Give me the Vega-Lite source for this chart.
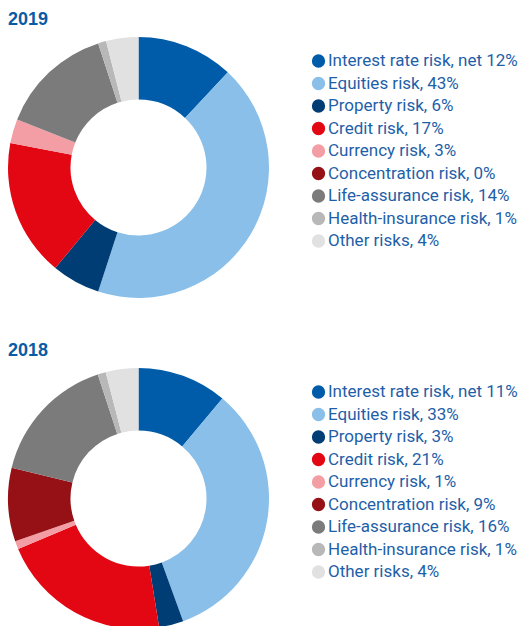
{
  "$schema": "https://vega.github.io/schema/vega-lite/v6.json",
  "padding": {"left": 8, "top": 11, "right": 0, "bottom": 0},
  "background": "white",
  "spacing": 44,
  "datasets": {
    "y2019": [
      {"i": 1, "risk": "Interest rate risk, net", "label": "Interest rate risk, net 12%", "value": 12},
      {"i": 2, "risk": "Equities risk", "label": "Equities risk, 43%", "value": 43},
      {"i": 3, "risk": "Property risk", "label": "Property risk, 6%", "value": 6},
      {"i": 4, "risk": "Credit risk", "label": "Credit risk, 17%", "value": 17},
      {"i": 5, "risk": "Currency risk", "label": "Currency risk, 3%", "value": 3},
      {"i": 6, "risk": "Concentration risk", "label": "Concentration risk, 0%", "value": 0},
      {"i": 7, "risk": "Life-assurance risk", "label": "Life-assurance risk, 14%", "value": 14},
      {"i": 8, "risk": "Health-insurance risk", "label": "Health-insurance risk, 1%", "value": 1},
      {"i": 9, "risk": "Other risks", "label": "Other risks, 4%", "value": 4}
    ],
    "y2018": [
      {"i": 1, "risk": "Interest rate risk, net", "label": "Interest rate risk, net 11%", "value": 11},
      {"i": 2, "risk": "Equities risk", "label": "Equities risk, 33%", "value": 33},
      {"i": 3, "risk": "Property risk", "label": "Property risk, 3%", "value": 3},
      {"i": 4, "risk": "Credit risk", "label": "Credit risk, 21%", "value": 21},
      {"i": 5, "risk": "Currency risk", "label": "Currency risk, 1%", "value": 1},
      {"i": 6, "risk": "Concentration risk", "label": "Concentration risk, 9%", "value": 9},
      {"i": 7, "risk": "Life-assurance risk", "label": "Life-assurance risk, 16%", "value": 16},
      {"i": 8, "risk": "Health-insurance risk", "label": "Health-insurance risk, 1%", "value": 1},
      {"i": 9, "risk": "Other risks", "label": "Other risks, 4%", "value": 4}
    ]
  },
  "vconcat": [
    {
      "data": {"name": "y2019"},
      "width": 261,
      "height": 261,
      "title": {"text": "2019"},
      "mark": {"type": "arc", "innerRadius": 68, "outerRadius": 130.5},
      "encoding": {
        "theta": {"field": "value", "type": "quantitative", "stack": true},
        "order": {"field": "i", "type": "quantitative"},
        "color": {
          "field": "label",
          "type": "nominal",
          "scale": {
            "domain": ["Interest rate risk, net 12%", "Equities risk, 43%", "Property risk, 6%", "Credit risk, 17%", "Currency risk, 3%", "Concentration risk, 0%", "Life-assurance risk, 14%", "Health-insurance risk, 1%", "Other risks, 4%"],
            "range": ["#005ca9", "#89bfe9", "#003d74", "#e30613", "#f29ea4", "#951116", "#7b7b7b", "#b8b8b8", "#e1e1e1"]
          },
          "legend": {"orient": "none", "legendX": 302, "legendY": 15.5, "title": null}
        }
      }
    },
    {
      "data": {"name": "y2018"},
      "width": 261,
      "height": 261,
      "title": {"text": "2018"},
      "mark": {"type": "arc", "innerRadius": 68, "outerRadius": 130.5},
      "encoding": {
        "theta": {"field": "value", "type": "quantitative", "stack": true},
        "order": {"field": "i", "type": "quantitative"},
        "color": {
          "field": "label",
          "type": "nominal",
          "scale": {
            "domain": ["Interest rate risk, net 11%", "Equities risk, 33%", "Property risk, 3%", "Credit risk, 21%", "Currency risk, 1%", "Concentration risk, 9%", "Life-assurance risk, 16%", "Health-insurance risk, 1%", "Other risks, 4%"],
            "range": ["#005ca9", "#89bfe9", "#003d74", "#e30613", "#f29ea4", "#951116", "#7b7b7b", "#b8b8b8", "#e1e1e1"]
          },
          "legend": {"orient": "none", "legendX": 302, "legendY": 15.5, "title": null}
        }
      }
    }
  ],
  "resolve": {"scale": {"color": "independent"}},
  "config": {
    "view": {"stroke": null},
    "title": {"anchor": "start", "font": "Liberation Sans", "fontSize": 18, "fontWeight": "bold", "color": "#0a5ba6", "offset": 8},
    "legend": {
      "padding": 0,
      "symbolType": "circle",
      "symbolSize": 177,
      "symbolStrokeWidth": 0,
      "labelFont": "Roboto",
      "labelFontSize": 17,
      "labelColor": "#1f5fa8",
      "labelOffset": 1,
      "labelLimit": 300,
      "rowPadding": 4.5
    }
  }
}
